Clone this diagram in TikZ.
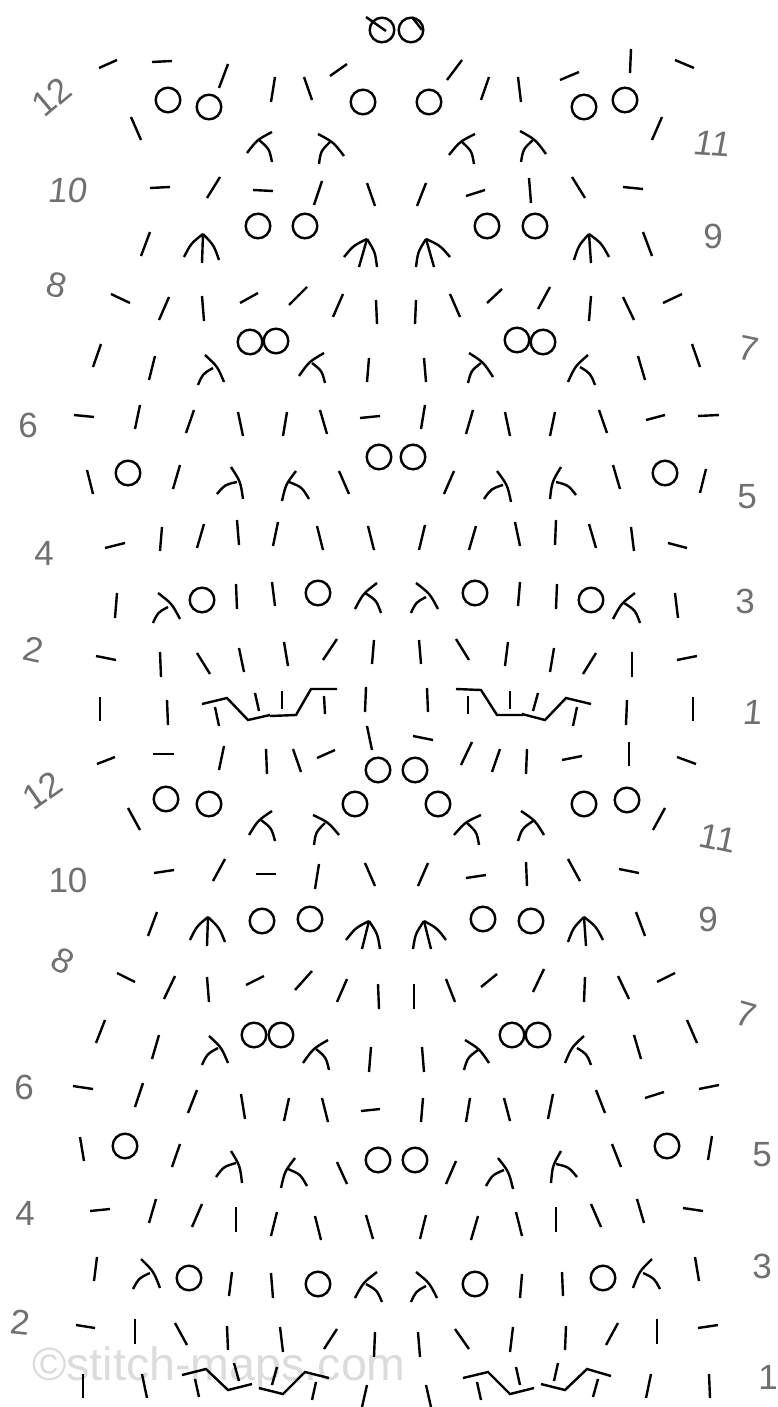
\documentclass[tikz,border=0pt]{standalone}
\usepackage{fontspec}
\setmainfont{Liberation Sans}
\definecolor{labelgray}{HTML}{707070}
\definecolor{markgray}{HTML}{DCDCDC}
\tikzset{
  stitch/.style={line width=2.4pt,black},
  rowlabel/.style={text=labelgray,inner sep=0pt,transform shape,font=\fontsize{35}{35}\selectfont},
  watermark/.style={text=markgray,inner sep=0pt,anchor=base west,font=\fontsize{46.6}{46.6}\selectfont}
}
\newcommand\Ln[4]{\draw[stitch] (#1,#2) -- (#3,#4);}
\newcommand\Yo[2]{\draw[stitch] (#1,#2) circle[radius=12.3pt];}
\newcommand\Cv[5]{%
  \pgfmathsetmacro\sgn{ifthenelse(#1<#3,1,-1)}%
  \pgfmathsetmacro\cxx{(#1+#3)/2+\sgn*#5*(#4-#2)}%
  \pgfmathsetmacro\cyy{(#2+#4)/2-\sgn*#5*(#3-#1)}%
  \draw[stitch] (#1,#2) .. controls (\cxx,\cyy) .. (#3,#4);}
\newcommand\Fk[8]{\Cv{#1}{#2}{#3}{#4}{0.11}\Cv{#5}{#6}{#7}{#8}{0.17}}
% apex, left end, right end, stem end
\newcommand\Ar[8]{\Cv{#3}{#4}{#1}{#2}{0.11}\Cv{#1}{#2}{#5}{#6}{0.11}\Ln{#1}{#2}{#7}{#8}}
\begin{document}
\begin{tikzpicture}[x=1pt,y=-1pt]
\useasboundingbox (0,0) rectangle (778,1407);
\fill[white] (0,0) rectangle (778,1407);
\node[watermark] (mark) at (32,1380) {©stitch-maps.com};
% row labels, first repeat
\node[rowlabel,rotate=40] (a12) at (52,97) {12};
\node[rowlabel,xslant=.12,rotate=-4] (a11) at (713,144) {11};
\node[rowlabel,xslant=.12] (a10) at (68,190) {10};
\node[rowlabel] (a9) at (713,236) {9};
\node[rowlabel,rotate=-14] (a8) at (57,285) {8};
\node[rowlabel,rotate=-12] (a7) at (749,349) {7};
\node[rowlabel] (a6) at (28,425) {6};
\node[rowlabel] (a5) at (747,497) {5};
\node[rowlabel] (a4) at (44,553) {4};
\node[rowlabel] (a3) at (745,601) {3};
\node[rowlabel,rotate=-12] (a2) at (34,650) {2};
\node[rowlabel,xslant=.1] (a1) at (753,712) {1};
% row labels, second repeat
\node[rowlabel,rotate=35] (b12) at (42,790) {12};
\node[rowlabel,rotate=-12] (b11) at (718,838) {11};
\node[rowlabel] (b10) at (68,880) {10};
\node[rowlabel] (b9) at (708,919) {9};
\node[rowlabel,rotate=-30] (b8) at (63,961) {8};
\node[rowlabel,rotate=-16] (b7) at (746,1015) {7};
\node[rowlabel] (b6) at (24,1087) {6};
\node[rowlabel] (b5) at (762,1155) {5};
\node[rowlabel] (b4) at (25,1213) {4};
\node[rowlabel] (b3) at (762,1266) {3};
\node[rowlabel,rotate=-6] (b2) at (20,1322) {2};
\node[rowlabel] (b1) at (768,1377) {1};
% top
\Yo{382}{30}\Yo{411}{30}\Ln{366}{17}{386}{31}\Ln{412}{17}{422}{30}
\Ln{99}{68}{117}{60}\Ln{152}{62}{172}{61}\Yo{168}{100}\Yo{209}{107}\Ln{219}{88}{228}{64}
\Ln{271}{102}{275}{77}\Ln{312}{100}{304}{77}\Ln{330}{76}{347}{64}\Yo{363}{102}\Ln{131}{117}{141}{140}
\Ln{447}{80}{462}{60}\Yo{429}{102}\Ln{481}{100}{489}{77}\Ln{521}{102}{518}{77}\Ln{560}{80}{579}{72}
\Yo{584}{107}\Yo{625}{100}\Ln{630}{73}{631}{49}\Ln{675}{60}{694}{68}\Ln{652}{140}{662}{117}
\Fk{247}{153}{272}{132}{259}{140}{272}{162}
\Fk{318}{134}{344}{156}{330}{142}{319}{164}
\Fk{449}{155}{475}{134}{462}{142}{474}{164}
\Fk{520}{131}{546}{154}{533}{140}{521}{162}
\Ln{150}{188}{170}{187}\Ln{207}{198}{220}{177}\Ln{253}{190}{273}{191}\Ln{314}{205}{322}{181}\Ln{375}{206}{367}{183}
\Ln{417}{206}{426}{183}\Ln{466}{196}{485}{190}\Ln{531}{203}{529}{178}\Ln{585}{198}{572}{177}\Ln{623}{187}{643}{189}
\Yo{258}{226}\Yo{305}{226}\Yo{487}{226}\Yo{535}{226}
\Ln{141}{256}{150}{232}\Ln{652}{256}{643}{232}
\Ar{203}{234}{184}{257}{219}{260}{202}{263}
\Ar{367}{239}{344}{257}{377}{267}{359}{267}
\Ar{426}{239}{416}{267}{450}{257}{434}{267}
\Ar{589}{234}{574}{260}{609}{257}{591}{263}
\Ln{111}{294}{130}{303}\Ln{159}{320}{169}{297}\Ln{202}{296}{204}{321}\Ln{240}{303}{258}{293}\Ln{289}{305}{307}{287}\Ln{333}{317}{343}{294}\Ln{376}{300}{377}{324}
\Ln{416}{300}{415}{324}\Ln{450}{294}{460}{317}\Ln{487}{303}{502}{289}\Ln{538}{309}{550}{287}\Ln{591}{296}{589}{321}\Ln{623}{297}{634}{320}\Ln{663}{303}{682}{294}
\Yo{250}{342}\Yo{276}{341}\Yo{517}{340}\Yo{543}{342}
\Ln{93}{367}{101}{344}\Ln{149}{380}{155}{356}
\Fk{205}{355}{224}{382}{213}{368}{198}{385}
\Fk{299}{376}{324}{353}{312}{363}{325}{383}
\Ln{367}{382}{369}{358}\Ln{424}{358}{426}{382}
\Fk{469}{353}{493}{377}{481}{363}{468}{383}
\Fk{568}{382}{588}{355}{580}{367}{595}{385}
\Ln{638}{356}{645}{380}\Ln{692}{344}{700}{367}
\Ln{74}{415}{94}{417}\Ln{135}{429}{140}{405}\Ln{186}{433}{194}{410}\Ln{243}{436}{238}{412}\Ln{283}{436}{287}{412}\Ln{327}{434}{320}{410}\Ln{360}{418}{380}{416}
\Ln{425}{405}{421}{429}\Ln{473}{410}{466}{434}\Ln{505}{412}{510}{436}\Ln{555}{412}{550}{436}\Ln{599}{410}{607}{433}\Ln{646}{420}{665}{415}\Ln{698}{416}{719}{415}
\Yo{379}{457}\Yo{413}{457}
\Ln{87}{470}{93}{494}\Yo{128}{473}\Ln{173}{489}{180}{465}
\Fk{231}{467}{243}{499}{237}{482}{217}{494}
\Fk{296}{471}{282}{501}{289}{482}{309}{499}
\Ln{349}{494}{339}{471}\Ln{444}{494}{454}{471}
\Fk{497}{471}{511}{502}{503}{485}{484}{499}
\Fk{561}{467}{550}{499}{556}{482}{576}{495}
\Ln{620}{489}{613}{465}\Yo{665}{473}\Ln{700}{493}{706}{469}
\Ln{105}{548}{125}{543}\Ln{160}{551}{162}{527}\Ln{197}{548}{204}{524}\Ln{239}{545}{237}{520}\Ln{273}{546}{278}{522}\Ln{323}{550}{317}{526}\Ln{374}{550}{368}{526}
\Ln{419}{550}{425}{525}\Ln{469}{550}{476}{526}\Ln{520}{546}{515}{522}\Ln{555}{545}{556}{520}\Ln{596}{548}{589}{524}\Ln{634}{551}{631}{527}\Ln{668}{543}{687}{548}
\Ln{115}{618}{117}{593}
\Fk{158}{593}{180}{619}{168}{607}{153}{623}
\Yo{202}{600}\Ln{237}{609}{236}{584}\Ln{275}{606}{272}{582}\Yo{318}{593}
\Fk{355}{609}{377}{583}{365}{593}{381}{613}
\Fk{416}{583}{438}{609}{426}{597}{411}{613}
\Yo{475}{593}\Ln{518}{606}{520}{582}\Ln{556}{609}{557}{584}\Yo{591}{600}
\Fk{613}{619}{635}{593}{624}{603}{640}{623}
\Ln{678}{618}{675}{593}
\Ln{96}{656}{116}{660}\Ln{161}{677}{160}{652}\Ln{210}{674}{197}{653}\Ln{244}{672}{239}{648}\Ln{288}{666}{284}{642}\Ln{323}{660}{337}{639}\Ln{372}{664}{374}{640}
\Ln{421}{664}{419}{640}\Ln{469}{660}{456}{639}\Ln{505}{666}{508}{642}\Ln{550}{672}{554}{648}\Ln{583}{674}{596}{653}\Ln{632}{677}{632}{652}\Ln{677}{660}{697}{656}
% row 1 first repeat
\Ln{100}{697}{100}{721}\Ln{167}{700}{168}{725}
\draw[stitch] (202,704) -- (227,698) -- (248,720) -- (270,715);
\draw[stitch] (270,716) -- (296,715) -- (311,689) -- (337,689);
\Ln{215}{707}{219}{726}\Ln{255}{693}{259}{711}\Ln{282}{691}{282}{709}\Ln{324}{696}{325}{714}\Ln{366}{687}{365}{712}
\Ln{427}{688}{428}{712}
\draw[stitch] (456,689) -- (481,690) -- (497,715) -- (523,715);
\draw[stitch] (522,714) -- (545,720) -- (566,698) -- (591,704);
\Ln{468}{696}{468}{714}\Ln{510}{691}{510}{709}\Ln{538}{693}{533}{711}\Ln{577}{707}{573}{726}\Ln{626}{725}{627}{700}\Ln{693}{697}{693}{721}
% second repeat
\Ln{367}{726}{372}{750}\Ln{413}{736}{433}{740}
\Ln{97}{764}{115}{757}\Ln{153}{754}{174}{754}\Ln{219}{770}{224}{746}\Ln{266}{749}{267}{774}\Ln{293}{749}{301}{772}\Ln{317}{758}{335}{750}
\Ln{461}{765}{472}{742}\Ln{492}{772}{500}{749}\Ln{526}{774}{527}{749}\Ln{562}{760}{582}{756}\Ln{629}{766}{629}{742}\Ln{677}{757}{696}{764}
\Yo{378}{770}\Yo{415}{770}\Yo{166}{799}\Yo{209}{804}\Yo{355}{804}\Yo{438}{804}\Yo{584}{804}\Yo{627}{800}
\Ln{128}{808}{140}{830}\Ln{653}{830}{665}{808}
\Fk{249}{835}{272}{811}{261}{820}{275}{841}
\Fk{313}{815}{339}{835}{325}{823}{314}{845}
\Fk{454}{835}{481}{815}{467}{823}{479}{845}
\Fk{521}{811}{544}{835}{533}{821}{518}{841}
\Ln{154}{873}{174}{870}\Ln{213}{881}{225}{859}\Ln{256}{874}{276}{874}\Ln{315}{889}{319}{864}\Ln{375}{886}{365}{863}
\Ln{418}{886}{428}{863}\Ln{466}{878}{486}{875}\Ln{527}{886}{526}{862}\Ln{580}{881}{568}{859}\Ln{619}{869}{639}{873}
\Yo{262}{921}\Yo{310}{919}\Yo{483}{919}\Yo{531}{921}
\Ln{148}{936}{157}{912}\Ln{645}{936}{636}{912}
\Ar{208}{917}{190}{940}{225}{942}{207}{946}
\Ar{369}{921}{346}{940}{380}{949}{362}{949}
\Ar{424}{921}{413}{949}{446}{940}{431}{949}
\Ar{584}{917}{568}{942}{603}{940}{586}{946}
\Ln{117}{973}{135}{982}\Ln{164}{999}{175}{976}\Ln{207}{977}{209}{1002}\Ln{246}{985}{264}{976}\Ln{295}{990}{312}{971}\Ln{337}{1002}{347}{979}\Ln{378}{984}{379}{1009}
\Ln{414}{984}{414}{1009}\Ln{446}{979}{455}{1002}\Ln{481}{987}{497}{974}\Ln{533}{992}{544}{969}\Ln{585}{977}{584}{1002}\Ln{618}{976}{629}{999}\Ln{657}{982}{675}{973}
\Yo{254}{1035}\Yo{281}{1035}\Yo{512}{1035}\Yo{538}{1035}
\Ln{96}{1043}{105}{1020}\Ln{152}{1059}{159}{1035}
\Fk{209}{1036}{228}{1063}{218}{1048}{202}{1065}
\Fk{303}{1063}{328}{1040}{316}{1049}{329}{1070}
\Ln{369}{1072}{371}{1047}\Ln{422}{1047}{424}{1072}
\Fk{465}{1040}{489}{1063}{478}{1050}{464}{1070}
\Fk{565}{1063}{584}{1036}{577}{1048}{591}{1065}
\Ln{634}{1035}{641}{1059}\Ln{687}{1020}{697}{1043}
\Ln{73}{1086}{93}{1089}\Ln{135}{1107}{143}{1083}\Ln{188}{1113}{197}{1090}\Ln{245}{1119}{241}{1094}\Ln{284}{1121}{289}{1098}\Ln{328}{1122}{322}{1098}\Ln{361}{1111}{380}{1109}
\Ln{423}{1098}{421}{1122}\Ln{470}{1098}{466}{1122}\Ln{504}{1098}{510}{1121}\Ln{553}{1094}{548}{1119}\Ln{596}{1090}{605}{1113}\Ln{645}{1098}{664}{1092}\Ln{699}{1089}{719}{1085}
\Ln{80}{1137}{84}{1161}\Yo{125}{1146}\Ln{172}{1167}{180}{1144}
\Fk{231}{1151}{242}{1183}{236}{1163}{216}{1177}
\Fk{295}{1158}{281}{1188}{288}{1169}{307}{1186}
\Ln{347}{1184}{337}{1162}\Yo{378}{1160}\Yo{415}{1160}\Ln{446}{1184}{456}{1161}
\Fk{498}{1158}{513}{1189}{504}{1170}{486}{1186}
\Fk{561}{1151}{551}{1183}{556}{1164}{577}{1177}
\Ln{621}{1167}{612}{1144}\Yo{667}{1146}\Ln{708}{1160}{712}{1136}
\Ln{90}{1211}{110}{1209}\Ln{149}{1223}{156}{1199}\Ln{192}{1227}{202}{1204}\Ln{236}{1232}{236}{1207}\Ln{271}{1236}{277}{1212}\Ln{321}{1240}{315}{1216}\Ln{373}{1239}{366}{1215}
\Ln{420}{1239}{426}{1215}\Ln{471}{1240}{478}{1216}\Ln{522}{1236}{516}{1212}\Ln{556}{1232}{556}{1207}\Ln{601}{1227}{591}{1204}\Ln{644}{1223}{637}{1199}\Ln{683}{1208}{703}{1211}
\Ln{94}{1281}{97}{1257}
\Fk{141}{1259}{160}{1288}{150}{1273}{133}{1289}
\Yo{189}{1278}\Ln{229}{1296}{232}{1272}\Ln{273}{1298}{271}{1273}\Yo{318}{1284}
\Fk{355}{1298}{377}{1272}{366}{1284}{382}{1302}
\Fk{416}{1272}{437}{1298}{426}{1286}{411}{1302}
\Yo{475}{1284}\Ln{520}{1298}{522}{1274}\Ln{563}{1296}{562}{1272}\Yo{603}{1278}
\Fk{633}{1288}{652}{1259}{643}{1273}{660}{1289}
\Ln{699}{1281}{695}{1257}
\Ln{76}{1325}{95}{1328}\Ln{135}{1344}{135}{1319}\Ln{187}{1345}{175}{1323}\Ln{228}{1350}{227}{1326}\Ln{283}{1352}{280}{1327}\Ln{324}{1349}{337}{1329}\Ln{374}{1357}{375}{1332}
\Ln{420}{1357}{418}{1332}\Ln{469}{1349}{455}{1329}\Ln{510}{1352}{513}{1327}\Ln{565}{1350}{566}{1326}\Ln{606}{1345}{618}{1323}\Ln{657}{1344}{657}{1319}\Ln{698}{1328}{718}{1325}
% row 1 second repeat
\Ln{83}{1398}{83}{1374}\Ln{147}{1398}{142}{1374}
\draw[stitch] (182,1375) -- (206,1369) -- (228,1390) -- (252,1384);
\draw[stitch] (259,1388) -- (283,1394) -- (305,1372) -- (329,1378);
\Ln{195}{1379}{199}{1397}\Ln{234}{1363}{239}{1381}\Ln{277}{1367}{272}{1385}\Ln{316}{1382}{312}{1400}\Ln{367}{1385}{362}{1407}
\Ln{431}{1407}{426}{1385}
\draw[stitch] (463,1378) -- (488,1372) -- (510,1394) -- (534,1388);
\draw[stitch] (541,1384) -- (565,1390) -- (587,1369) -- (611,1376);
\Ln{477}{1382}{481}{1400}\Ln{516}{1367}{520}{1385}\Ln{558}{1363}{554}{1381}\Ln{598}{1379}{593}{1397}\Ln{651}{1374}{646}{1398}\Ln{709}{1374}{710}{1398}
\end{tikzpicture}
\end{document}
